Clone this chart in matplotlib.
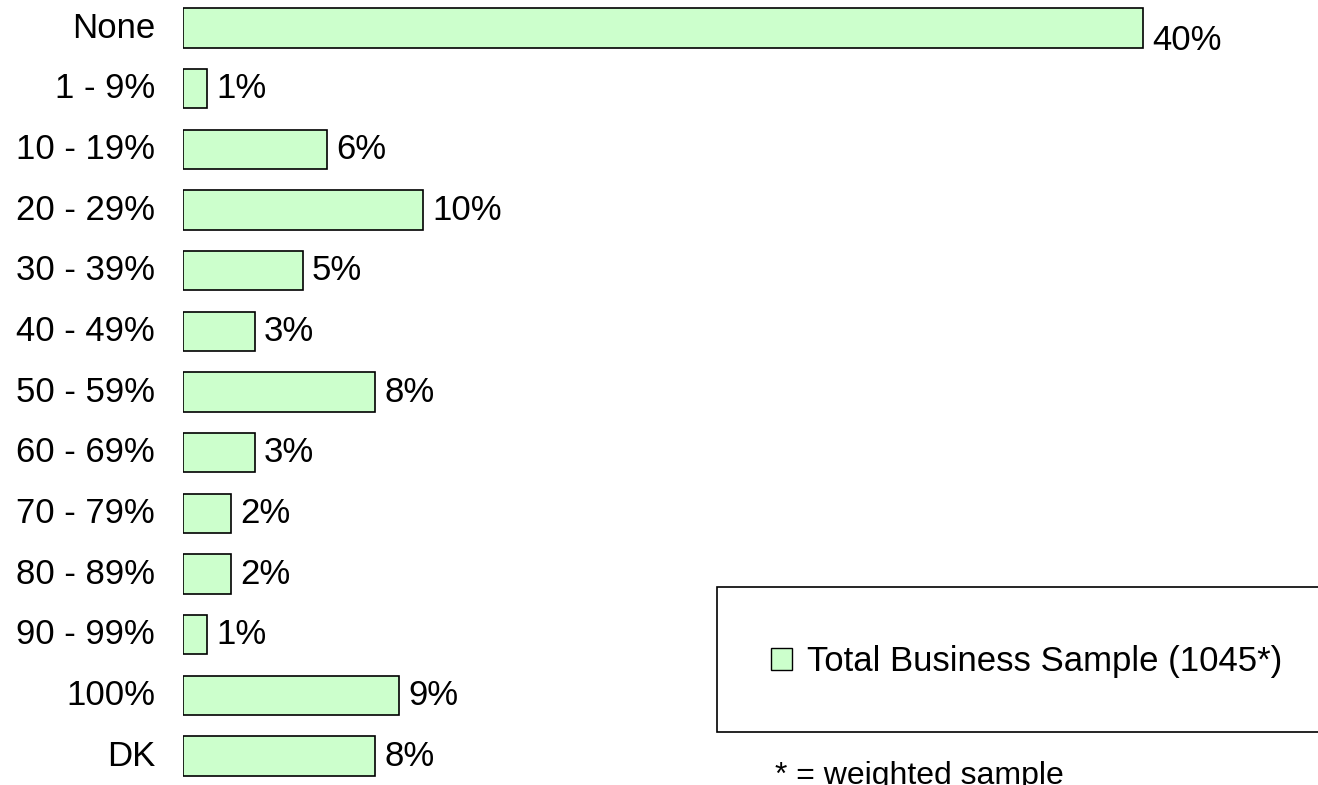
import matplotlib
matplotlib.use("Agg")
import matplotlib.pyplot as plt
from matplotlib.patches import Rectangle, Patch

categories = ["None", "1 - 9%", "10 - 19%", "20 - 29%", "30 - 39%", "40 - 49%",
              "50 - 59%", "60 - 69%", "70 - 79%", "80 - 89%", "90 - 99%", "100%", "DK"]
values = [40, 1, 6, 10, 5, 3, 8, 3, 2, 2, 1, 9, 8]
series_name = "Total Business Sample (1045*)"
footnote = "* = weighted sample"

plt.rcParams['font.family'] = ['Liberation Sans', 'DejaVu Sans']
W, H = 1318, 785
fig = plt.figure(figsize=(W / 100, H / 100), dpi=100)

px_per_unit = 24.0
ax_left = 183
ax = fig.add_axes([ax_left / W, 0, (W - ax_left) / W, 1])
ax.set_xlim(0, (W - ax_left) / px_per_unit)
pitch = 60.67
top_center = 28
ax.set_ylim((H - top_center) / pitch, -top_center / pitch)
ax.axis('off')

bar_color = '#CCFFCC'
ypos = list(range(len(categories)))
ax.barh(ypos, values, height=0.65, color=bar_color, edgecolor='black', linewidth=1.2)

fs = 25
for i, (c, v) in enumerate(zip(categories, values)):
    ax.annotate(c, xy=(0, i), xytext=(-28, 0), textcoords='offset pixels',
                ha='right', va='center', fontsize=fs)
    dy = -12 if i == 0 else 0
    ax.annotate(f"{v}%", xy=(v, i), xytext=(9, dy), textcoords='offset pixels',
                ha='left', va='center', fontsize=fs)

# legend frame
fig.patches.append(Rectangle((717 / W, 1 - 732 / H), (W + 20 - 717) / W, (732 - 587) / H,
                             transform=fig.transFigure, facecolor='white',
                             edgecolor='black', linewidth=1.2, clip_on=False))
handle = Patch(facecolor=bar_color, edgecolor='black', linewidth=1.0, label=series_name)
leg = fig.legend(handles=[handle], loc='center left', bbox_to_anchor=(771 / W, 1 - 662 / H),
                 frameon=False, fontsize=fs, handlelength=0.6, handleheight=0.6,
                 handletextpad=0.43, borderpad=0, borderaxespad=0)

fig.text(775 / W, 1 - 784 / H, footnote, ha='left', va='baseline', fontsize=23)

fig.savefig("out.png", dpi=100)
